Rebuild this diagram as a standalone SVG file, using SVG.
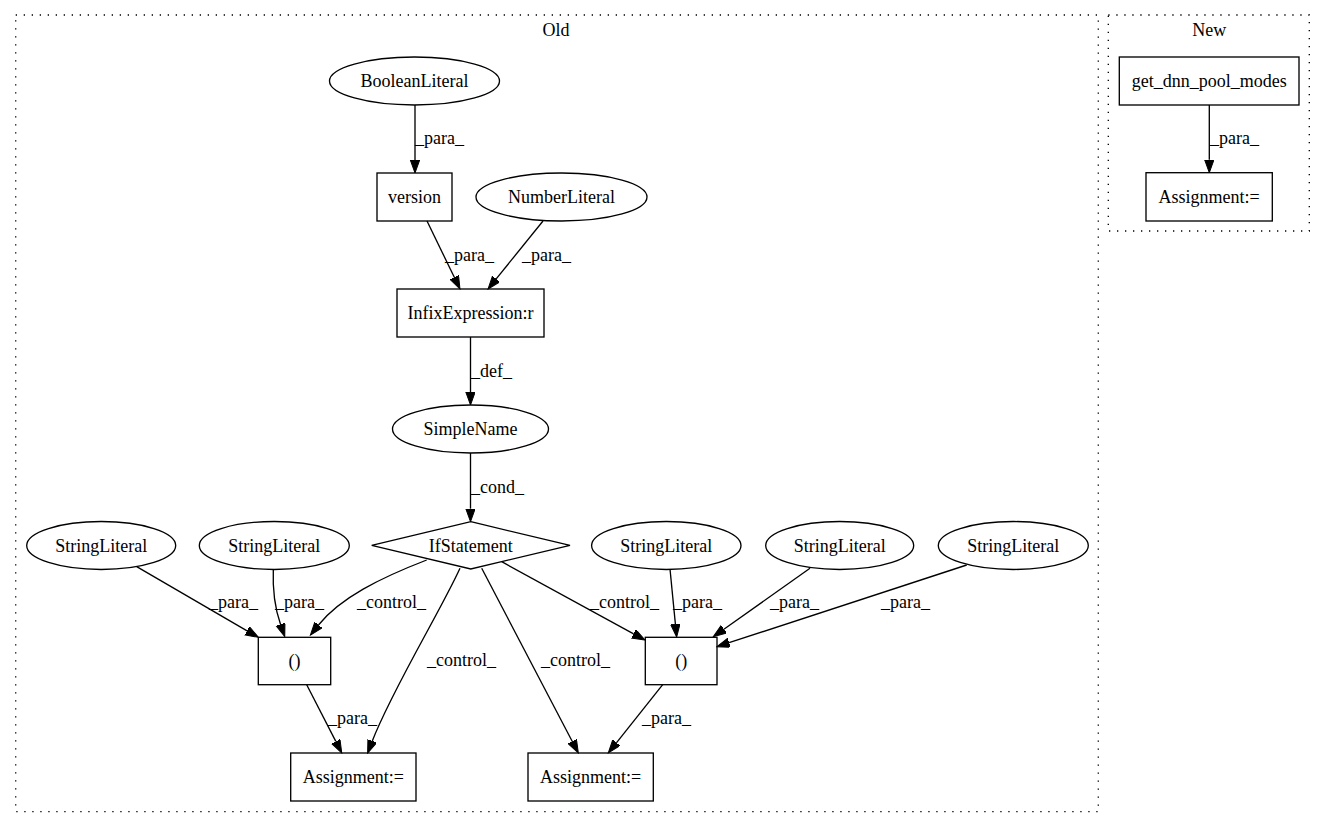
<svg xmlns="http://www.w3.org/2000/svg" width="1325" height="828" viewBox="0 0 1325 828">
<style>
  text { font-family: "Liberation Serif", "Times New Roman", serif; font-size: 18px; fill: #000; }
  .n { text-anchor: middle; }
  .shape { fill: none; stroke: #000; stroke-width: 1.33; }
  .cluster { fill: none; stroke: #000; stroke-width: 1.33; stroke-dasharray: 1.33,6.67; }
  .edge { fill: none; stroke: #000; stroke-width: 1.33; marker-end: url(#arrow); }
</style>
<defs>
  <marker id="arrow" markerUnits="userSpaceOnUse" markerWidth="14" markerHeight="11" refX="0" refY="4.7" orient="auto">
    <path d="M0,0 L13,4.7 L0,9.4 z" fill="#000" stroke="#000" stroke-width="1"/>
  </marker>
</defs>
<rect width="1325" height="828" fill="#fff"/>

<g id="cluster_old">
  <rect class="cluster" x="15.7" y="15" width="1082.6" height="796.7"/>
  <text class="n" x="556" y="36">Old</text>
</g>
<g id="cluster_new">
  <rect class="cluster" x="1108.3" y="15" width="201" height="216"/>
  <text class="n" x="1209.3" y="36">New</text>
</g>

<g id="edges">
  <path class="edge" d="M415,105 L415,160"/>
  <path class="edge" d="M427,221 L454.3,277.3"/>
  <path class="edge" d="M543,221 L496.2,278.9"/>
  <path class="edge" d="M470.5,337 L470.5,392"/>
  <path class="edge" d="M470.5,453 L470.5,508.7"/>
  <path class="edge" d="M136.7,566.7 L247.1,630.8"/>
  <path class="edge" d="M273.3,569.5 C272.5,590 274.5,607 280.5,624.3"/>
  <path class="edge" d="M426.7,560 C380,578 340,598 318.5,625"/>
  <path class="edge" d="M460,568.3 C440,612 392,690 372.3,741"/>
  <path class="edge" d="M306.7,684.7 L335.8,741.4"/>
  <path class="edge" d="M501.7,561.7 L633.6,633.8"/>
  <path class="edge" d="M481.7,568.3 L572.3,741.5"/>
  <path class="edge" d="M670,569 L675.4,624.1"/>
  <path class="edge" d="M810,568.3 L723.9,629.2"/>
  <path class="edge" d="M966.7,565 L729.1,642.7"/>
  <path class="edge" d="M662.7,684.7 L616.4,742.8"/>
  <path class="edge" d="M1209.3,105 L1209.3,159.7"/>

  <text x="415" y="144">_para_</text>
  <text x="445" y="261">_para_</text>
  <text x="522" y="261">_para_</text>
  <text x="471" y="377">_def_</text>
  <text x="471" y="493">_cond_</text>
  <text x="209" y="608">_para_</text>
  <text x="275" y="608">_para_</text>
  <text x="357" y="608">_control_</text>
  <text x="427" y="666">_control_</text>
  <text x="541" y="666">_control_</text>
  <text x="590" y="608">_control_</text>
  <text x="673" y="608">_para_</text>
  <text x="770" y="608">_para_</text>
  <text x="881" y="608">_para_</text>
  <text x="328" y="724">_para_</text>
  <text x="642" y="724">_para_</text>
  <text x="1210" y="144">_para_</text>
</g>

<g id="BooleanLiteral">
  <ellipse class="shape" cx="414.5" cy="81" rx="85" ry="24"/>
  <text class="n" x="414.5" y="87">BooleanLiteral</text>
</g>
<g id="version">
  <rect class="shape" x="377" y="173" width="75" height="48"/>
  <text class="n" x="414.5" y="203">version</text>
</g>
<g id="NumberLiteral">
  <ellipse class="shape" cx="561.5" cy="197" rx="85.5" ry="24"/>
  <text class="n" x="561.5" y="203">NumberLiteral</text>
</g>
<g id="InfixExpression">
  <rect class="shape" x="397" y="289" width="147" height="48"/>
  <text class="n" x="470.5" y="319">InfixExpression:r</text>
</g>
<g id="SimpleName">
  <ellipse class="shape" cx="470.5" cy="429" rx="78" ry="24"/>
  <text class="n" x="470.5" y="435">SimpleName</text>
</g>
<g id="IfStatement">
  <polygon class="shape" points="470.8,521.7 570,545.4 470.8,569 371.7,545.4"/>
  <text class="n" x="470.8" y="551.5">IfStatement</text>
</g>
<g id="StringLiteral1">
  <ellipse class="shape" cx="101.2" cy="545.5" rx="74.5" ry="24"/>
  <text class="n" x="101.2" y="551.5">StringLiteral</text>
</g>
<g id="StringLiteral2">
  <ellipse class="shape" cx="274.3" cy="545.5" rx="75" ry="24"/>
  <text class="n" x="274.3" y="551.5">StringLiteral</text>
</g>
<g id="StringLiteral3">
  <ellipse class="shape" cx="666.3" cy="545.5" rx="74.7" ry="24"/>
  <text class="n" x="666.3" y="551.5">StringLiteral</text>
</g>
<g id="StringLiteral4">
  <ellipse class="shape" cx="839.7" cy="545.5" rx="74" ry="24"/>
  <text class="n" x="839.7" y="551.5">StringLiteral</text>
</g>
<g id="StringLiteral5">
  <ellipse class="shape" cx="1013.3" cy="545.5" rx="75" ry="24"/>
  <text class="n" x="1013.3" y="551.5">StringLiteral</text>
</g>
<g id="Paren1">
  <rect class="shape" x="258.3" y="637.3" width="72.4" height="47.4"/>
  <text class="n" x="294.5" y="667">()</text>
</g>
<g id="Paren2">
  <rect class="shape" x="645.3" y="637.3" width="71.7" height="47.4"/>
  <text class="n" x="681.2" y="667">()</text>
</g>
<g id="Assignment1">
  <rect class="shape" x="290.7" y="753" width="125.3" height="48"/>
  <text class="n" x="353.3" y="783">Assignment:=</text>
</g>
<g id="Assignment2">
  <rect class="shape" x="528" y="753" width="125.3" height="48"/>
  <text class="n" x="590.7" y="783">Assignment:=</text>
</g>
<g id="get_dnn_pool_modes">
  <rect class="shape" x="1119.3" y="57" width="179.7" height="48"/>
  <text class="n" x="1209.2" y="87">get_dnn_pool_modes</text>
</g>
<g id="Assignment3">
  <rect class="shape" x="1146" y="172.7" width="126.3" height="48.3"/>
  <text class="n" x="1209.2" y="203">Assignment:=</text>
</g>
</svg>
